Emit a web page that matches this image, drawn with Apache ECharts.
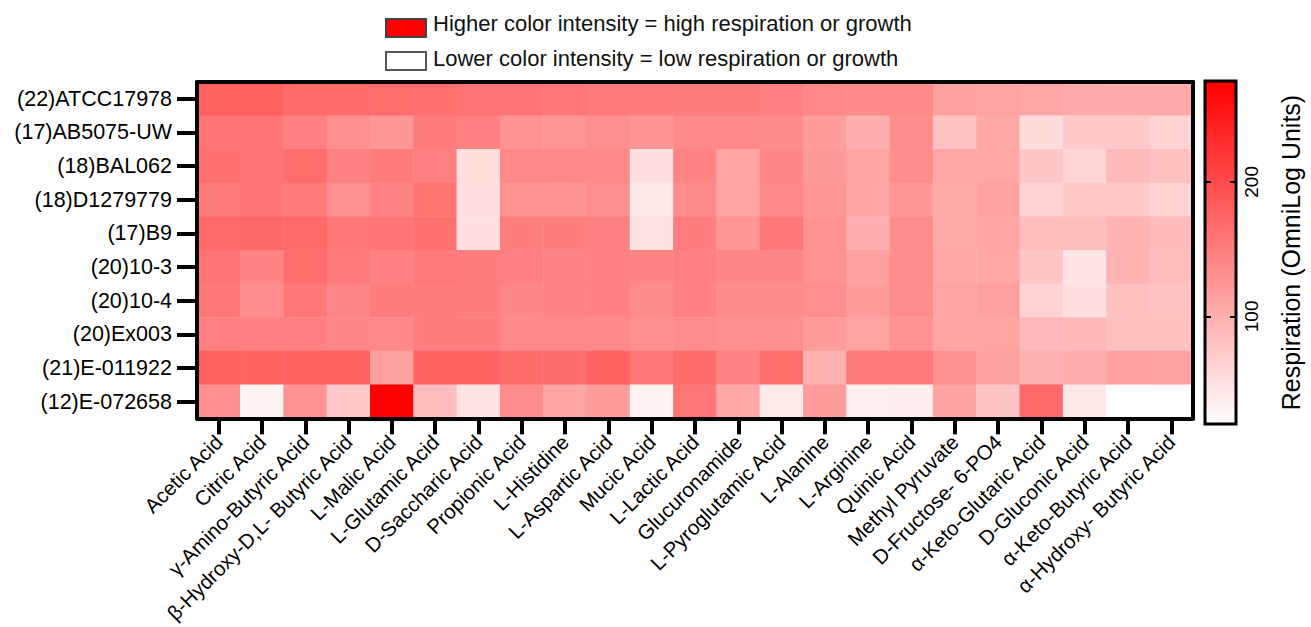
<!DOCTYPE html>
<html>
<head>
<meta charset="utf-8">
<script src="https://cdn.jsdelivr.net/npm/echarts/dist/echarts.min.js"></script>
<style>
html,body{margin:0;padding:0;background:#fff;}
#chart{width:1311px;height:627px;}
</style>
</head>
<body>
<div id="chart"></div>
<script>
const substrates = ['Acetic Acid','Citric Acid','γ-Amino-Butyric Acid','β-Hydroxy-D,L- Butyric Acid','L-Malic Acid','L-Glutamic Acid','D-Saccharic Acid','Propionic Acid','L-Histidine','L-Aspartic Acid','Mucic Acid','L-Lactic Acid','Glucuronamide','L-Pyroglutamic Acid','L-Alanine','L-Arginine','Quinic Acid','Methyl Pyruvate','D-Fructose- 6-PO4','α-Keto-Glutaric Acid','D-Gluconic Acid','α-Keto-Butyric Acid','α-Hydroxy- Butyric Acid'];
const strains = ['(22)ATCC17978','(17)AB5075-UW','(18)BAL062','(18)D1279779','(17)B9','(20)10-3','(20)10-4','(20)Ex003','(21)E-011922','(12)E-072658'];

const vATCC17978 = [177,178,168,167,165,163,159,158,156,153,152,150,150,146,138,137,137,115,112,109,105,104,104];
const vAB5075UW  = [158,158,147,132,125,153,145,128,126,132,127,137,139,136,118,100,134,80,107,54,73,73,64];
const vBAL062    = [162,158,165,147,151,147,53,138,139,137,51,143,112,140,121,112,134,109,108,75,62,89,83];
const vD1279779  = [152,158,152,131,143,160,51,128,127,133,43,136,112,139,125,110,124,106,114,64,73,73,64];
const vB9        = [169,171,168,156,159,163,51,148,148,145,49,150,126,155,130,100,135,106,110,87,85,96,89];
const v10_3      = [159,142,165,152,146,152,148,147,142,145,143,147,140,140,130,115,134,108,108,77,46,96,87];
const v10_4      = [155,135,155,141,150,150,148,140,142,145,136,145,136,136,132,119,134,111,117,64,51,83,80];
const vEx003     = [147,147,147,140,138,150,148,139,139,137,133,135,133,133,120,112,128,110,112,90,91,83,83];
const vE011922   = [179,176,176,177,115,176,177,167,166,176,156,168,144,165,99,152,152,131,115,99,102,116,114];
const vE072658   = [132,32,128,74,275,87,48,134,110,119,33,157,107,41,119,35,37,113,79,169,43,20,22];

const colorMin = 20, colorMax = 275;
const colorTicks = [100, 200];

const rows = [vATCC17978, vAB5075UW, vBAL062, vD1279779, vB9, v10_3, v10_4, vEx003, vE011922, vE072658];
const heatData = [];
rows.forEach((r, yi) => r.forEach((v, xi) => heatData.push([xi, yi, v])));

const FONT = '"Liberation Sans", Arial, Helvetica, sans-serif';
const chart = echarts.init(document.getElementById('chart'), null, {renderer: 'svg'});

const blackLine = {show: true, lineStyle: {color: '#000', width: 4}};

chart.setOption({
  animation: false,
  backgroundColor: '#fff',
  textStyle: {fontFamily: FONT},
  grid: [
    {left: 197, top: 82, width: 996, height: 337},
    {left: 1205, top: 81, width: 31, height: 343, show: true, borderColor: '#000', borderWidth: 3,
     backgroundColor: new echarts.graphic.LinearGradient(0, 0, 0, 1, [{offset: 0, color: '#ff0000'}, {offset: 1, color: '#ffffff'}])}
  ],
  xAxis: [
    {type: 'category', gridIndex: 0, data: substrates, position: 'bottom', z: 10,
     axisLine: blackLine,
     axisTick: {show: true, alignWithLabel: true, length: 16, lineStyle: {color: '#000', width: 4}},
     axisLabel: {interval: 0, rotate: 45, fontSize: 20.5, color: '#000', margin: 20, fontFamily: FONT},
     splitLine: {show: false}},
    {type: 'category', gridIndex: 0, data: substrates, position: 'top', z: 10,
     axisLine: blackLine, axisTick: {show: false}, axisLabel: {show: false}},
    {type: 'value', gridIndex: 1, show: false, min: 0, max: 1}
  ],
  yAxis: [
    {type: 'category', gridIndex: 0, data: strains, inverse: true, z: 10,
     axisLine: blackLine,
     axisTick: {show: true, alignWithLabel: true, length: 20, lineStyle: {color: '#000', width: 4}},
     axisLabel: {fontSize: 21.5, color: '#000', margin: 25, fontFamily: FONT}},
    {type: 'category', gridIndex: 0, data: strains, inverse: true, position: 'right', z: 10,
     axisLine: blackLine, axisTick: {show: false}, axisLabel: {show: false}},
    {type: 'value', gridIndex: 1, min: colorMin, max: colorMax, position: 'left',
     axisLine: {show: false}, splitLine: {show: false},
     axisTick: {show: true, inside: true, length: 6, customValues: colorTicks, lineStyle: {color: '#000', width: 2}},
     axisLabel: {show: false}},
    {type: 'value', gridIndex: 1, min: colorMin, max: colorMax, position: 'right',
     axisLine: {show: false}, splitLine: {show: false},
     axisTick: {show: true, inside: true, length: 6, customValues: colorTicks, lineStyle: {color: '#000', width: 2}},
     axisLabel: {show: true, customValues: colorTicks, rotate: 90, fontSize: 19, color: '#000', margin: 6, fontFamily: FONT},
     name: 'Respiration (OmniLog Units)', nameLocation: 'middle', nameRotate: 90, nameGap: 42,
     nameTextStyle: {fontSize: 25, color: '#000', fontFamily: FONT}}
  ],
  visualMap: {
    type: 'continuous', show: false, min: colorMin, max: colorMax, dimension: 2, seriesIndex: 0,
    inRange: {color: ['#ffffff', '#ff0000']}
  },
  series: [{
    type: 'heatmap', xAxisIndex: 0, yAxisIndex: 0, data: heatData,
    itemStyle: {borderWidth: 0},
    emphasis: {disabled: true}
  }],
  graphic: [
    {type: 'rect', left: 385, top: 18, shape: {width: 40, height: 18}, style: {fill: '#ff0000', stroke: '#444', lineWidth: 2}},
    {type: 'text', left: 433, top: 12, style: {text: 'Higher color intensity = high respiration or growth', font: '22px ' + FONT, fill: '#111'}},
    {type: 'rect', left: 385, top: 51, shape: {width: 40, height: 18}, style: {fill: '#ffffff', stroke: '#555', lineWidth: 2}},
    {type: 'text', left: 433, top: 47, style: {text: 'Lower color intensity = low respiration or growth', font: '22px ' + FONT, fill: '#111'}}
  ]
});
</script>
</body>
</html>
